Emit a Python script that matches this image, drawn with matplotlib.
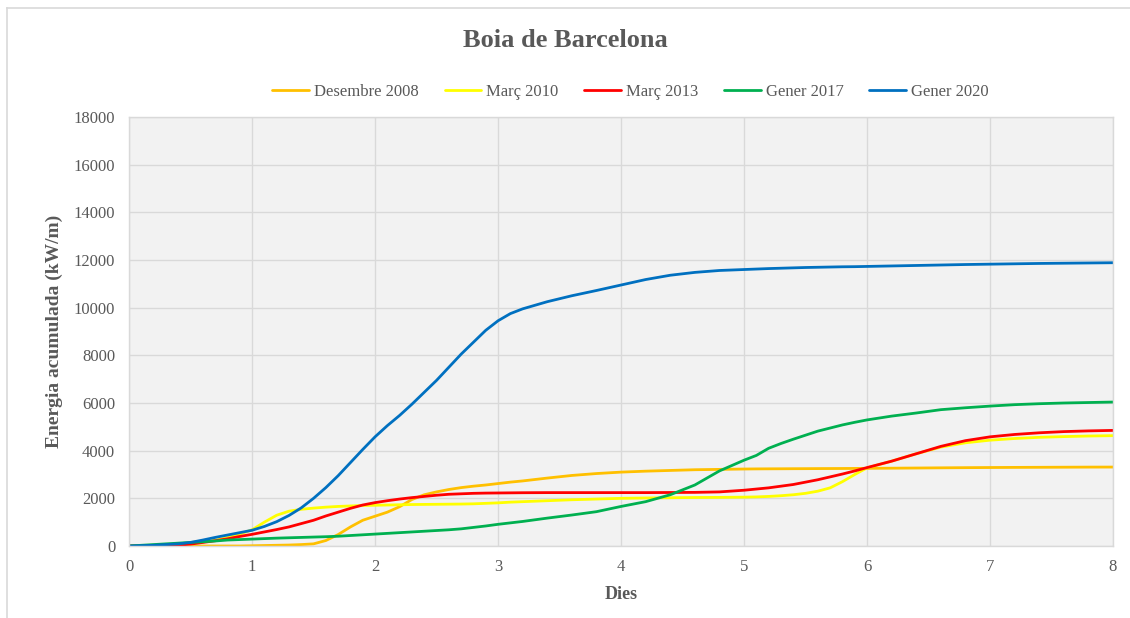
import numpy as np
import matplotlib.pyplot as plt
from matplotlib.lines import Line2D

plt.rcParams['font.family'] = ['Liberation Serif', 'DejaVu Serif']

# days since start of each storm
dies = [0, 0.2, 0.4,
        0.5, 0.6, 0.7, 0.8, 0.9, 1.0, 1.1, 1.2, 1.3, 1.4, 1.5, 1.6, 1.7, 1.8,
        1.9, 2.0, 2.1, 2.2, 2.3, 2.4, 2.5, 2.6, 2.7, 2.8, 2.9, 3.0, 3.1, 3.2,
        3.4, 3.6, 3.8, 4.0, 4.2, 4.4, 4.6, 4.8, 5.0,
        5.1, 5.2, 5.3, 5.4, 5.5, 5.6, 5.7, 5.8, 5.9, 6.0,
        6.2, 6.4, 6.6, 6.8, 7.0, 7.2, 7.4, 7.6, 7.8, 8.0]

desembre_2008 = [0, 0, 0,
                 0, 0, 0, 0, 0, 10, 20, 30, 40, 60, 90, 230, 480, 800,
                 1080, 1250, 1420, 1650, 1950, 2150, 2270, 2370, 2450, 2510, 2560,
                 2620, 2680, 2730,
                 2850, 2960, 3040, 3100, 3140, 3170, 3200, 3215, 3230,
                 3235, 3238, 3240, 3243, 3245, 3248, 3250, 3252, 3255, 3258,
                 3265, 3272, 3280, 3287, 3293, 3298, 3302, 3306, 3310, 3312]
marc_2010 = [0, 10, 40,
             100, 170, 240, 350, 500, 680, 1000, 1290, 1460, 1540, 1590, 1630,
             1660, 1680, 1700, 1710, 1720, 1730, 1740, 1745, 1750, 1755, 1760,
             1770, 1790, 1810, 1840, 1860,
             1900, 1940, 1970, 2000, 2015, 2025, 2035, 2040, 2050,
             2060, 2080, 2110, 2150, 2210, 2300, 2440, 2700, 3000, 3280,
             3560, 3870, 4150, 4330, 4440, 4510, 4560, 4590, 4615, 4630]
marc_2013 = [0, 10, 30,
             80, 150, 220, 300, 400, 490, 590, 690, 800, 940, 1080, 1260, 1420,
             1580, 1720, 1820, 1900, 1970, 2030, 2080, 2130, 2170, 2190, 2210,
             2220, 2225, 2230, 2235,
             2240, 2240, 2240, 2240, 2240, 2245, 2250, 2270, 2340,
             2390, 2440, 2510, 2580, 2680, 2780, 2900, 3020, 3150, 3290,
             3560, 3870, 4180, 4420, 4580, 4680, 4750, 4800, 4830, 4850]
gener_2017 = [0, 60, 120,
              150, 180, 210, 250, 270, 290, 310, 330, 345, 360, 375, 390, 410,
              440, 470, 500, 530, 560, 590, 620, 650, 680, 720, 780, 840, 910,
              970, 1030,
              1170, 1300, 1440, 1660, 1860, 2150, 2560, 3150, 3600,
              3800, 4100, 4300, 4480, 4650, 4820, 4950, 5080, 5190, 5290,
              5450, 5580, 5720, 5800, 5870, 5930, 5970, 6000, 6020, 6040]
gener_2020 = [0, 30, 90,
              150, 250, 360, 460, 560, 660, 820, 1020, 1280, 1600, 2000, 2450,
              2950, 3500, 4050, 4580, 5050, 5480, 5950, 6450, 6950, 7500, 8050,
              8550, 9050, 9450, 9750, 9950,
              10250, 10500, 10720, 10950, 11180, 11360, 11480, 11560, 11600,
              11620, 11640, 11655, 11670, 11685, 11695, 11705, 11715, 11720, 11730,
              11750, 11770, 11790, 11810, 11825, 11840, 11855, 11865, 11875, 11885]

series = [
    ('Desembre 2008', desembre_2008, '#FFC000'),
    ('Març 2010', marc_2010, '#FFFF00'),
    ('Març 2013', marc_2013, '#FF0000'),
    ('Gener 2017', gener_2017, '#00B050'),
    ('Gener 2020', gener_2020, '#0070C0'),
]

text_grey = '#595959'
grid_grey = '#D9D9D9'

fig = plt.figure(figsize=(11.3, 6.18), dpi=100)
ax = fig.add_axes([0.1142, 0.1165, 0.8708, 0.6942])
ax.set_facecolor('#F2F2F2')

for name, vals, col in series:
    ax.plot(dies, vals, color=col, lw=2.0, label=name,
            solid_joinstyle='round', solid_capstyle='round')

ax.set_xlim(0, 8)
ax.set_ylim(0, 18000)
ax.set_xticks(np.arange(0, 9, 1))
ax.set_yticks(np.arange(0, 18001, 2000))
ax.grid(True, color=grid_grey, lw=1.0)
ax.set_axisbelow(True)
ax.tick_params(length=0, labelsize=12, labelcolor=text_grey)
ax.tick_params(axis='y', pad=10)
ax.tick_params(axis='x', pad=9)
for side in ax.spines.values():
    side.set_color(grid_grey)
    side.set_linewidth(1.0)

ax.set_xlabel('Dies', fontsize=13, fontweight='bold', color=text_grey, labelpad=8)
ax.set_ylabel('Energia acumulada (kW/m)', fontsize=14, fontweight='bold',
              color=text_grey, labelpad=8)

fig.text(0.5, 0.935, 'Boia de Barcelona', ha='center', va='center',
         fontsize=19, fontweight='bold', color=text_grey)

fig.legend(loc='center', bbox_to_anchor=(0.558, 0.851), ncol=5, frameon=False,
           fontsize=12, handlelength=2.2, handletextpad=0.3, columnspacing=1.55,
           labelcolor=text_grey)

# chart-area frame (left and top edges)
fig.add_artist(Line2D([7 / 1130, 7 / 1130], [0, 1 - 8 / 618], color=grid_grey, lw=1.2))
fig.add_artist(Line2D([7 / 1130, 1], [1 - 8 / 618, 1 - 8 / 618], color=grid_grey, lw=1.2))

fig.savefig('out.png', dpi=100)
